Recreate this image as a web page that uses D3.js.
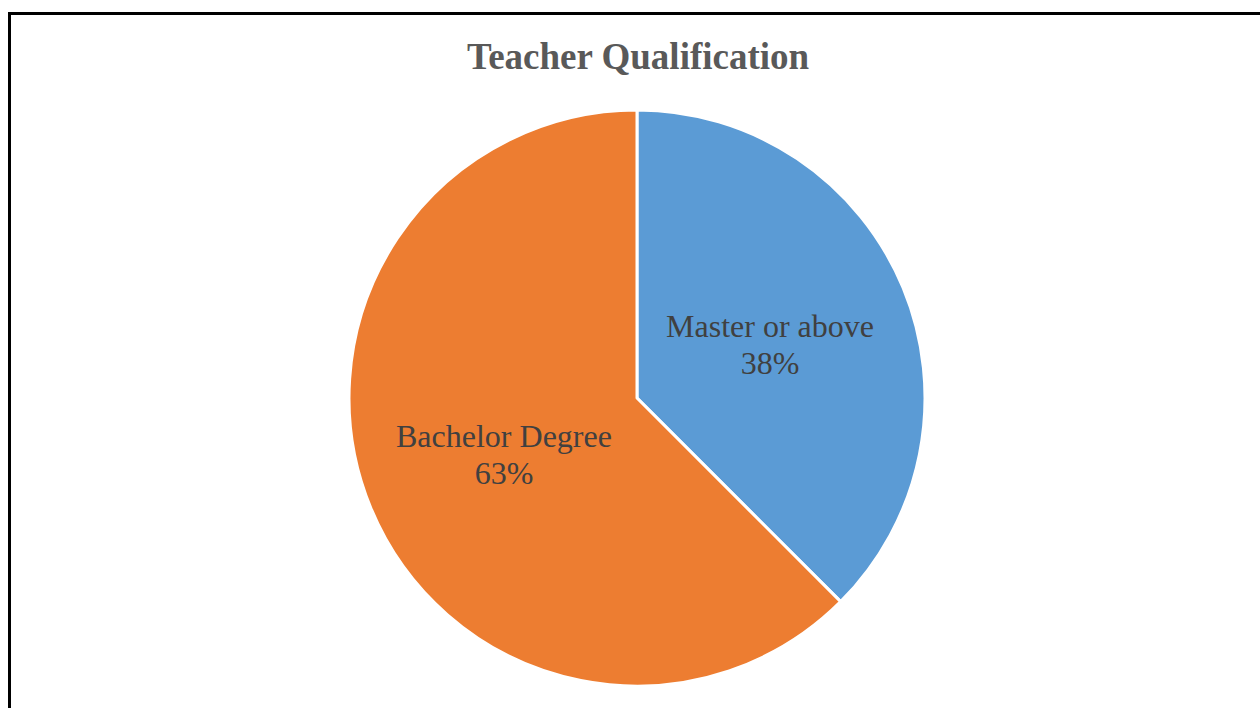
<!DOCTYPE html>
<html>
<head>
<meta charset="utf-8">
<script src="https://cdn.jsdelivr.net/npm/d3@7"></script>
<style>
  html, body { margin: 0; padding: 0; background: #fff; }
  svg { display: block; }
</style>
</head>
<body>
<svg id="chart" width="1260" height="708"></svg>
<script>
var categories = ['Master or above', 'Bachelor Degree'];
var values = [37.5, 62.5];
var labels = ['38%', '63%'];
var colors = ['#5B9BD5', '#ED7D31'];

var svg = d3.select('#chart');
var width = +svg.attr('width');
var height = +svg.attr('height');
var centerX = 637;
var centerY = 398;
var radius = 288;
var font = '"Liberation Serif", "Times New Roman", serif';

// chart frame (bottom and right run off the page)
svg.append('rect')
    .attr('x', 9.5)
    .attr('y', 13.5)
    .attr('width', 1270)
    .attr('height', 720)
    .attr('fill', '#fff')
    .attr('stroke', '#000')
    .attr('stroke-width', 3);

svg.append('text')
    .attr('x', 638)
    .attr('y', 69)
    .attr('text-anchor', 'middle')
    .style('font-family', font)
    .style('font-weight', 'bold')
    .style('font-size', '37px')
    .style('fill', '#595959')
    .text('Teacher Qualification');

var data = categories.map((c, i) => ({ name: c, value: values[i], label: labels[i], color: colors[i] }));

var pie = d3.pie().value(d => d.value).sort(null);
var arc = d3.arc().innerRadius(0).outerRadius(radius);

var g = svg.append('g').attr('transform', `translate(${centerX},${centerY})`);

var slices = g.selectAll('.slice')
    .data(pie(data))
    .enter().append('g')
    .attr('class', 'slice');

slices.append('path')
    .attr('d', arc)
    .attr('fill', d => d.data.color)
    .attr('stroke', '#fff')
    .attr('stroke-width', 3)
    .attr('stroke-linejoin', 'round');

// data labels at slice centroid, name on top and percent below
var lbl = slices.append('text')
    .attr('transform', d => {
        var c = arc.centroid(d);
        return `translate(${c[0]},${c[1]})`;
    })
    .attr('text-anchor', 'middle')
    .style('font-family', font)
    .style('font-size', '32px')
    .style('fill', '#404040');

lbl.append('tspan')
    .attr('x', 0)
    .attr('y', -6)
    .text(d => d.data.name);

lbl.append('tspan')
    .attr('x', 0)
    .attr('y', 31)
    .text(d => d.data.label);
</script>
</body>
</html>
